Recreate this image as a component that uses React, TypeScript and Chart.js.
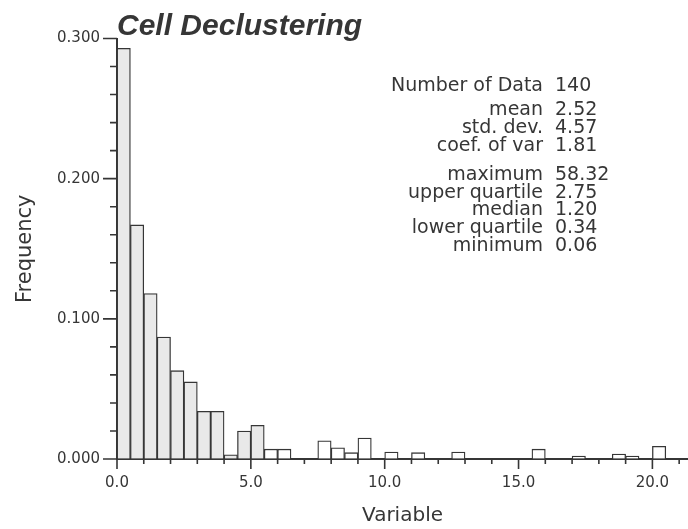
import React, { useEffect, useRef } from 'react';
import { Chart, registerables } from 'chart.js';

Chart.register(...registerables);

// Histogram bins (lower edge of each 0.5-wide class)
const binStarts = [
  0, 0.5, 1, 1.5, 2, 2.5, 3, 3.5, 4, 4.5,
  5, 5.5, 6, 6.5, 7, 7.5, 8, 8.5, 9, 9.5,
  10, 10.5, 11, 11.5, 12, 12.5, 13, 13.5, 14, 14.5,
  15, 15.5, 16, 16.5, 17, 17.5, 18, 18.5, 19, 19.5,
  20, 20.5,
];
const binWidth = 0.5;

// Frequencies
const frequencies = [
  0.293, 0.167, 0.118, 0.087, 0.063, 0.055, 0.034, 0.034, 0.003, 0.020,
  0.024, 0.007, 0.007, 0, 0, 0.013, 0.008, 0.0045, 0.015, 0,
  0.005, 0, 0.0045, 0, 0, 0.005, 0, 0, 0, 0,
  0, 0.007, 0, 0, 0.002, 0, 0, 0.0035, 0.002, 0,
  0.009, 0,
];
const shadedBinCount = 11;

const xMajorTicks = [0, 5, 10, 15, 20];
const yMajorTicks = [0, 0.1, 0.2, 0.3];

const statLabels = [
  'Number of Data',
  'mean',
  'std. dev.',
  'coef. of var',
  'maximum',
  'upper quartile',
  'median',
  'lower quartile',
  'minimum',
];
const statValues = ['140', '2.52', '4.57', '1.81', '58.32', '2.75', '1.20', '0.34', '0.06'];
const statBaselines = [91, 115, 133, 151, 180, 197.5, 215, 232.5, 250.5];

const INK = '#363636';

const tickMarksPlugin = {
  id: 'tickMarks',
  afterDraw(chart: any) {
    const { ctx, chartArea, scales } = chart;
    const x = scales.x;
    const y = scales.y;
    ctx.save();
    ctx.strokeStyle = INK;
    ctx.lineWidth = 1.6;
    ctx.beginPath();
    for (let v = 0; v <= 21; v += 1) {
      const px = x.getPixelForValue(v);
      const len = v % 5 === 0 ? 10 : 5;
      ctx.moveTo(px, chartArea.bottom);
      ctx.lineTo(px, chartArea.bottom + len);
    }
    for (let i = 0; i <= 15; i += 1) {
      const py = y.getPixelForValue(i * 0.02);
      const len = i % 5 === 0 ? 14 : 7;
      ctx.moveTo(chartArea.left, py);
      ctx.lineTo(chartArea.left - len, py);
    }
    ctx.stroke();
    ctx.restore();
  },
};

const statsPlugin = {
  id: 'statsBlock',
  afterDraw(chart: any) {
    const { ctx } = chart;
    ctx.save();
    ctx.font = '19px "DejaVu Sans"';
    ctx.fillStyle = INK;
    ctx.textBaseline = 'alphabetic';
    statLabels.forEach((label, i) => {
      ctx.textAlign = 'right';
      ctx.fillText(label, 543, statBaselines[i]);
      ctx.textAlign = 'left';
      ctx.fillText(statValues[i], 555, statBaselines[i]);
    });
    ctx.restore();
  },
};

export default function App() {
  const canvasRef = useRef<HTMLCanvasElement | null>(null);

  useEffect(() => {
    if (!canvasRef.current) return;
    const data = binStarts.map((s, i) => ({ x: s + binWidth / 2, y: frequencies[i] }));
    const chart = new Chart(canvasRef.current, {
      type: 'bar',
      data: {
        datasets: [
          {
            label: 'Frequency',
            data,
            backgroundColor: binStarts.map((_, i) => (i < shadedBinCount ? '#e9e9e9' : '#ffffff')),
            borderColor: INK,
            borderWidth: 1.3,
            borderSkipped: 'start',
            barPercentage: 1,
            categoryPercentage: 1,
          } as any,
        ],
      },
      options: {
        animation: false,
        responsive: false,
        maintainAspectRatio: false,
        layout: { padding: { left: 0, right: 0, top: 0, bottom: 0 } },
        plugins: {
          legend: { display: false },
          tooltip: { enabled: false },
          title: {
            display: true,
            text: 'Cell Declustering',
            align: 'start',
            fullSize: false,
            color: INK,
            font: { family: '"Liberation Sans", Arial, sans-serif', size: 30, weight: 'bold', style: 'italic', lineHeight: 0.8 },
            padding: { top: 14.5, bottom: 0 },
          },
        },
        scales: {
          x: {
            type: 'linear',
            min: 0,
            max: 21.33,
            offset: false,
            afterFit: (s: any) => {
              s.height = 70;
            },
            afterBuildTicks: (s: any) => {
              s.ticks = xMajorTicks.map((v) => ({ value: v }));
            },
            ticks: {
              autoSkip: false,
              maxRotation: 0,
              padding: 15,
              color: INK,
              font: { family: '"DejaVu Sans"', size: 15 },
              callback: (v: any) => Number(v).toFixed(1),
            },
            grid: { display: true, drawOnChartArea: false, drawTicks: false, offset: false, color: 'rgba(0,0,0,0)' },
            border: { display: true, color: INK, width: 2 },
            title: {
              display: true,
              text: 'Variable',
              color: INK,
              font: { family: '"DejaVu Sans"', size: 20, lineHeight: 1.2 },
              padding: { top: 0, bottom: 1 },
            },
          },
          y: {
            type: 'linear',
            min: 0,
            max: 0.3,
            afterFit: (s: any) => {
              s.width = 117;
            },
            afterBuildTicks: (s: any) => {
              s.ticks = yMajorTicks.map((v) => ({ value: v }));
            },
            ticks: {
              padding: 17,
              color: INK,
              font: { family: '"DejaVu Sans"', size: 15 },
              callback: (v: any) => Number(v).toFixed(3),
            },
            grid: { display: true, drawOnChartArea: false, drawTicks: false, color: 'rgba(0,0,0,0)' },
            border: { display: true, color: INK, width: 2 },
            title: {
              display: true,
              text: 'Frequency',
              color: INK,
              font: { family: '"DejaVu Sans"', size: 21, lineHeight: 1.2 },
              padding: { top: 13, bottom: 0 },
            },
          },
        },
      },
      plugins: [tickMarksPlugin, statsPlugin],
    });
    return () => chart.destroy();
  }, []);

  return (
    <div style={{ position: 'fixed', left: 0, top: 0, width: 688, height: 529, background: '#fff' }}>
      <canvas ref={canvasRef} width={688} height={529} style={{ width: 688, height: 529 }} />
    </div>
  );
}
